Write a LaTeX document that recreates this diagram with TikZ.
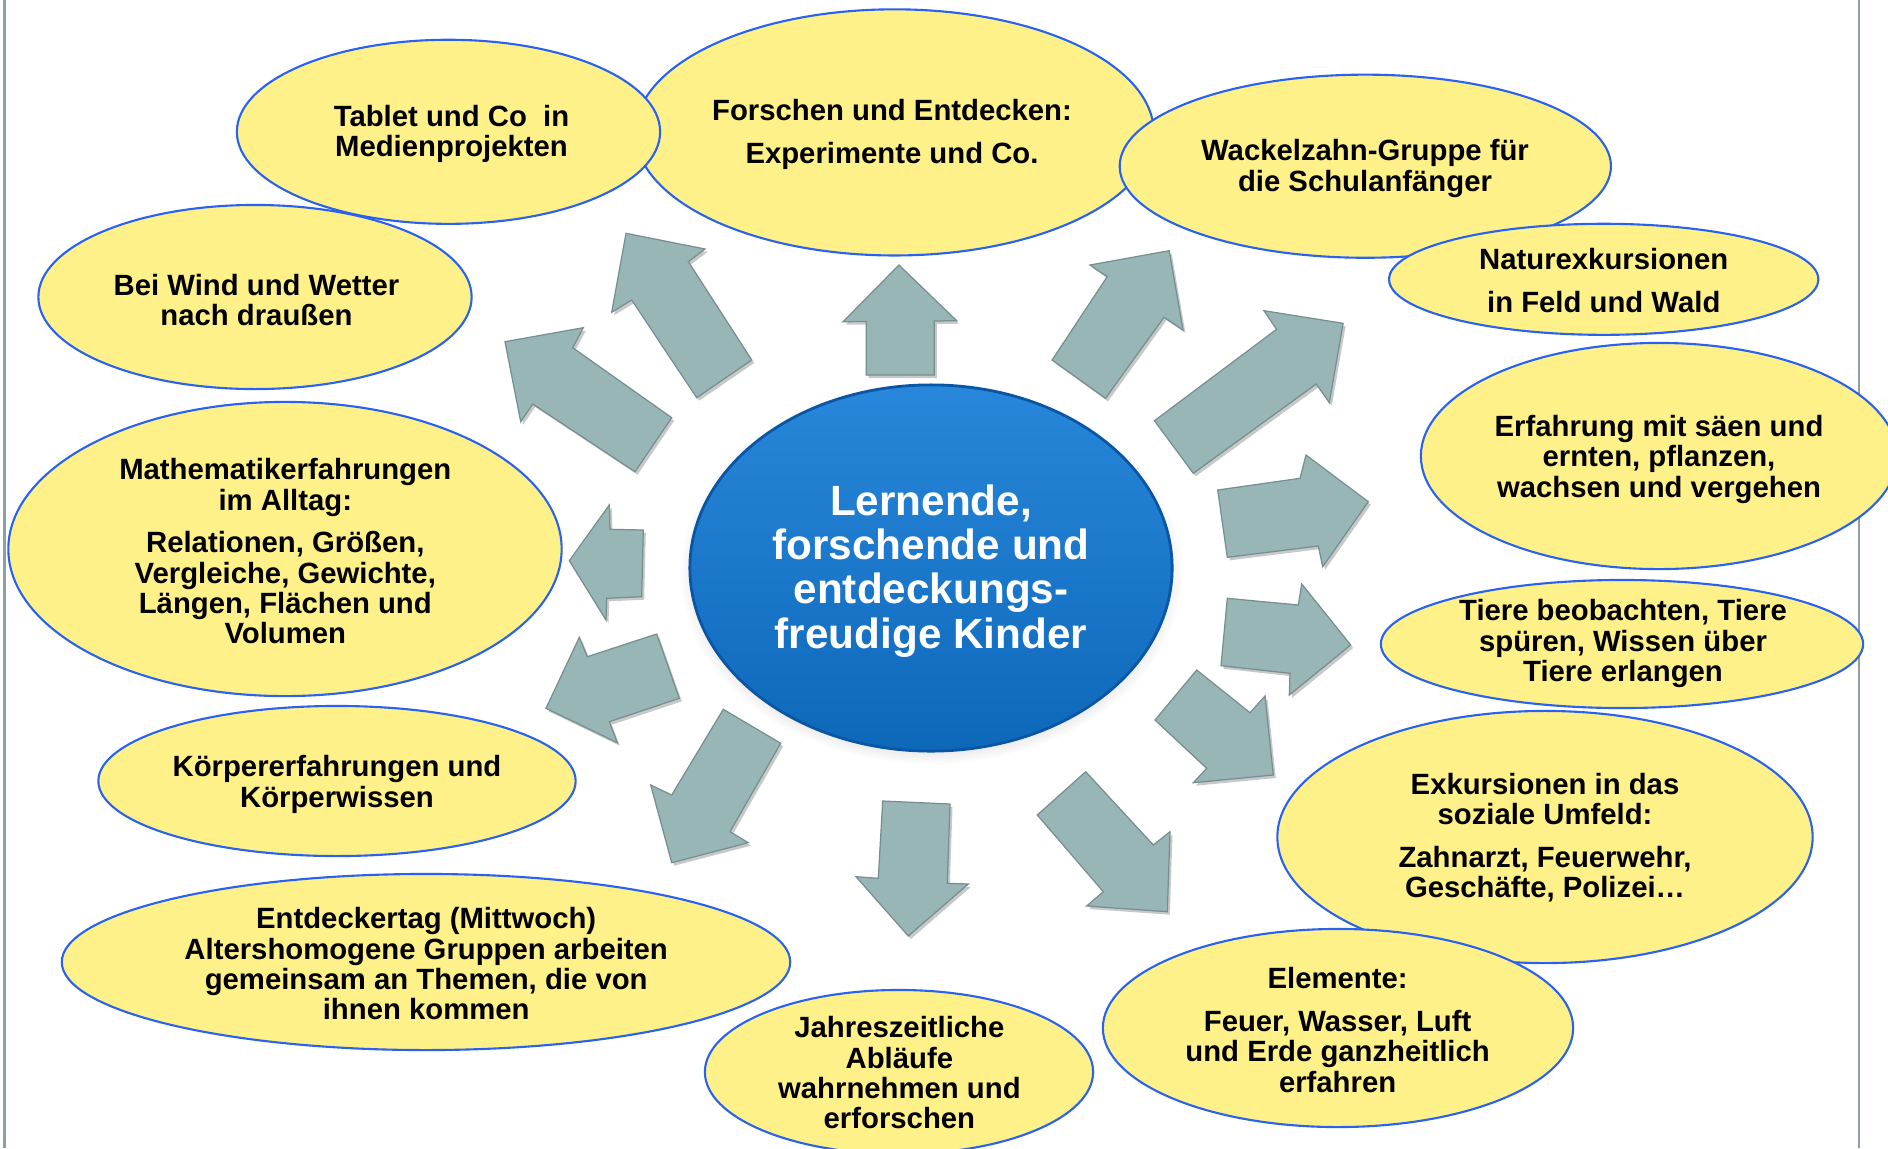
\documentclass[tikz,border=0pt]{standalone}
\usepackage{fontspec}
\newfontfamily\lsans{Liberation Sans}
\usetikzlibrary{shapes.geometric,shadows}
\definecolor{ellfill}{RGB}{255,241,138}
\definecolor{ellline}{RGB}{42,98,240}
\definecolor{arrfill}{RGB}{153,182,183}
\definecolor{arrline}{RGB}{118,142,144}
\definecolor{frameline}{RGB}{140,160,165}
\definecolor{hubtop}{RGB}{40,135,218}
\definecolor{hubmid}{RGB}{18,112,194}
\definecolor{hubbot}{RGB}{14,104,186}
\definecolor{hubedge}{RGB}{10,86,165}
\begin{document}
\begin{tikzpicture}[x=0.01cm,y=-0.01cm,
  bubble/.style={ellipse, draw=ellline, line width=0.6pt, fill=ellfill, inner sep=0pt, outer sep=0pt},
  btext/.style={font=\lsans\bfseries\fontsize{8.33pt}{8.63pt}\selectfont, align=center, inner sep=0pt, yshift=-0.03cm},
  blockarrow/.style={fill=arrfill, draw=arrline, line width=0.35pt, line join=miter,
    drop shadow={shadow xshift=0.025cm, shadow yshift=-0.03cm, opacity=0.3, fill=black!70}},
  hubstyle/.style={ellipse, inner sep=0pt, top color=hubtop, middle color=hubmid, bottom color=hubbot,
    draw=hubedge, line width=0.8pt,
    circular drop shadow={shadow xshift=0cm, shadow yshift=-0.05cm, shadow scale=1.04, opacity=0.35}},
]
\useasboundingbox (0,0) rectangle (1888,1148);
\fill[white] (0,0) rectangle (1888,1148);

% frame lines
\coordinate (fl1) at (4.5,0);
\coordinate (fl2) at (4.5,1148);
\coordinate (fr1) at (1859,0);
\coordinate (fr2) at (1859,1148);
\draw[frameline, line width=0.75pt] (fl1) -- (fl2);
\draw[frameline, line width=0.75pt] (fr1) -- (fr2);

% block arrows
\filldraw[blockarrow] (898.9,265) -- (956.7,320.7) -- (934.3,321) -- (934.3,375) -- (866.2,375) -- (866.2,321.5) -- (843.1,321.7) -- cycle;
\filldraw[blockarrow] (626,233.3) -- (705,249) -- (688.3,261.7) -- (751.7,360) -- (696.7,397.7) -- (631.7,300) -- (611.7,312.3) -- cycle;
\filldraw[blockarrow] (505,341.7) -- (583.3,327.7) -- (572.7,347.7) -- (671.7,417.7) -- (635,471.7) -- (532.7,404) -- (520.7,421.7) -- cycle;
\filldraw[blockarrow] (569.3,560.7) -- (609.3,505) -- (610,529.3) -- (643.3,530) -- (641.7,596.7) -- (606.7,598.3) -- (606,620) -- cycle;
\filldraw[blockarrow] (546,708.3) -- (579.3,637.3) -- (587.3,656.7) -- (656.7,634) -- (679.3,698.3) -- (609.3,721.7) -- (617.3,742.7) -- cycle;
\filldraw[blockarrow] (671.7,862.7) -- (650.7,785) -- (671.7,795) -- (723.3,709.3) -- (780.7,743.3) -- (730,831.7) -- (748.3,842.7) -- cycle;
\filldraw[blockarrow] (908.3,936) -- (856,876.7) -- (878.3,878.3) -- (882.7,801) -- (950,804) -- (947.3,883.3) -- (968.3,884) -- cycle;
\filldraw[blockarrow] (1167.3,911.7) -- (1086.7,906) -- (1103.3,891.7) -- (1037.3,815) -- (1085.7,771.7) -- (1153.3,845) -- (1170,831.7) -- cycle;
\filldraw[blockarrow] (1273.3,775) -- (1193.3,782.7) -- (1206.7,768.3) -- (1155,720) -- (1196.7,670) -- (1250,712.7) -- (1265,696) -- cycle;
\filldraw[blockarrow] (1350.7,645) -- (1301.7,584) -- (1298.3,605) -- (1227.3,598.3) -- (1221,665.7) -- (1290,673.3) -- (1289.3,695) -- cycle;
\filldraw[blockarrow] (1368.3,501.7) -- (1306,455) -- (1300,478.3) -- (1217.7,490) -- (1227.3,557.3) -- (1318.3,546) -- (1322.7,566.7) -- cycle;
\filldraw[blockarrow] (1343.1,323.3) -- (1263.9,310.7) -- (1276.6,329.3) -- (1154.4,420.7) -- (1193.3,473.3) -- (1316.2,384) -- (1329.3,402.7) -- cycle;
\filldraw[blockarrow] (1169.2,250.7) -- (1090,265) -- (1107.2,276.7) -- (1052.1,360) -- (1105.5,398.3) -- (1164,317.3) -- (1183,330) -- cycle;

% central hub
\node[hubstyle, minimum width=4.82cm, minimum height=3.66cm] (hub) at (931,568) {};
\node[font=\lsans\bfseries\fontsize{12.02pt}{12.57pt}\selectfont, text=white, align=center, inner sep=0pt, yshift=-0.03cm] (hubtext) at (hub.center) {Lernende,\\forschende und\\entdeckungs-\\freudige Kinder};

% ellipses
\node[bubble, minimum width=5.18cm, minimum height=2.46cm] (e2) at (894.6,132.4) {};
\node[bubble, minimum width=4.23cm, minimum height=1.84cm] (e1) at (448.5,131.8) {};
\node[bubble, minimum width=4.91cm, minimum height=1.83cm] (e3) at (1365.3,166.2) {};
\node[bubble, minimum width=4.29cm, minimum height=1.11cm] (e4) at (1603.7,279.3) {};
\node[bubble, minimum width=4.76cm, minimum height=2.26cm] (e5) at (1659,456) {};
\node[bubble, minimum width=4.82cm, minimum height=1.28cm] (e6) at (1622,644) {};
\node[bubble, minimum width=5.35cm, minimum height=2.52cm] (e7) at (1545,837) {};
\node[bubble, minimum width=4.70cm, minimum height=1.98cm] (e8) at (1338,1028) {};
\node[bubble, minimum width=3.88cm, minimum height=1.64cm] (e9) at (899,1072) {};
\node[bubble, minimum width=7.28cm, minimum height=1.76cm] (e10) at (426,962) {};
\node[bubble, minimum width=4.77cm, minimum height=1.50cm] (e11) at (337,781) {};
\node[bubble, minimum width=5.53cm, minimum height=2.94cm] (e12) at (285,549) {};
\node[bubble, minimum width=4.33cm, minimum height=1.84cm] (e13) at (255,297) {};

% texts
\node[btext] (t1) at (451.5,130.6) {Tablet und Co\ \ in\\Medienprojekten};
\node[btext] (t2) at (892,131.2) {Forschen und Entdecken:\\[3.5pt]Experimente und Co.};
\node[btext] (t3) at (1365,165.6) {Wackelzahn-Gruppe für\\die Schulanfänger};
\node[btext] (t4) at (1603.7,277.5) {Naturexkursionen\\[3.5pt]in Feld und Wald};
\node[btext] (t5) at (1659,456.3) {Erfahrung mit säen und\\ernten, pflanzen,\\wachsen und vergehen};
\node[btext] (t6) at (1623,640.5) {Tiere beobachten, Tiere\\spüren, Wissen über\\Tiere erlangen};
\node[btext] (t7) at (1545,834.4) {Exkursionen in das\\soziale Umfeld:\\[3.5pt]Zahnarzt, Feuerwehr,\\Geschäfte, Polizei…};
\node[btext] (t8) at (1337.6,1027) {Elemente:\\[3.5pt]Feuer, Wasser, Luft\\und Erde ganzheitlich\\erfahren};
\node[btext] (t9) at (899.4,1069.8) {Jahreszeitliche\\Abläufe\\wahrnehmen und\\erforschen};
\node[btext] (t10) at (426.2,960.8) {Entdeckertag (Mittwoch)\\Altershomogene Gruppen arbeiten\\gemeinsam an Themen, die von\\ihnen kommen};
\node[btext] (t11) at (337,781.4) {Körpererfahrungen und\\Körperwissen};
\node[btext] (t12) at (285.3,548.4) {Mathematikerfahrungen\\im Alltag:\\[3.5pt]Relationen, Größen,\\Vergleiche, Gewichte,\\Längen, Flächen und\\Volumen};
\node[btext] (t13) at (256.5,296.8) {Bei Wind und Wetter\\nach draußen};
\end{tikzpicture}
\end{document}
